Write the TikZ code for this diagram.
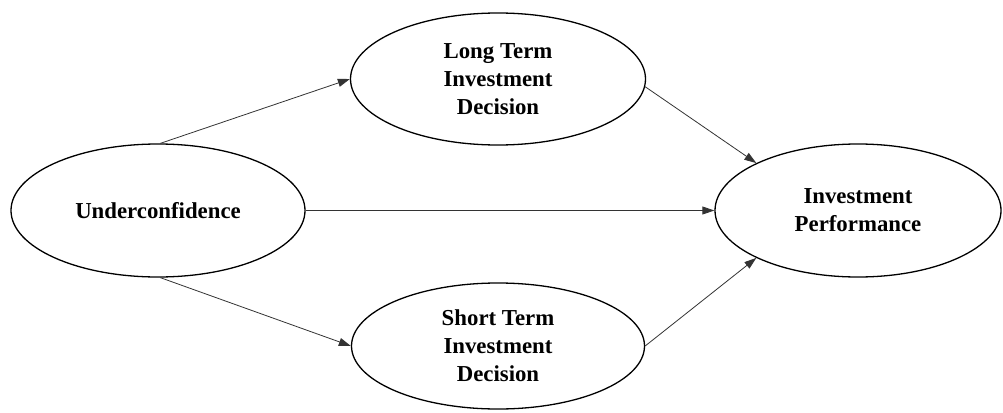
\documentclass[tikz,border=0pt]{standalone}
\usepackage{fontspec}
\setmainfont{Liberation Serif}
\usetikzlibrary{shapes.geometric,arrows.meta}
\tikzset{
  oval/.style={ellipse, draw=black, line width=1.3pt, inner sep=0pt, align=center,
    font=\fontsize{22.8}{28}\selectfont\bfseries},
  link/.style={draw=black!80, line width=0.8pt, -{Triangle[length=12pt,width=8pt]}}
}
\begin{document}
\begin{tikzpicture}[x=1pt,y=-1pt]
\useasboundingbox (0,0) rectangle (1003,412);
\node[oval, minimum width=294pt, minimum height=133pt] (u) at (158,210.5) {Underconfidence};
\node[oval, minimum width=295pt, minimum height=132pt] (lt) at (498,79) {Long Term\\Investment\\Decision};
\node[oval, minimum width=293pt, minimum height=126pt] (st) at (498,346) {Short Term\\Investment\\Decision};
\node[oval, minimum width=286pt, minimum height=133pt] (p) at (858,210.5) {Investment\\Performance};
\draw[link] (u.88) -- (lt.west);
\draw[link] (u.272) -- (st.west);
\draw[link] (u.east) -- (p.west);
\draw[link] (lt.-3) -- (p.155);
\draw[link] (st.east) -- (p.205);
\end{tikzpicture}
\end{document}
